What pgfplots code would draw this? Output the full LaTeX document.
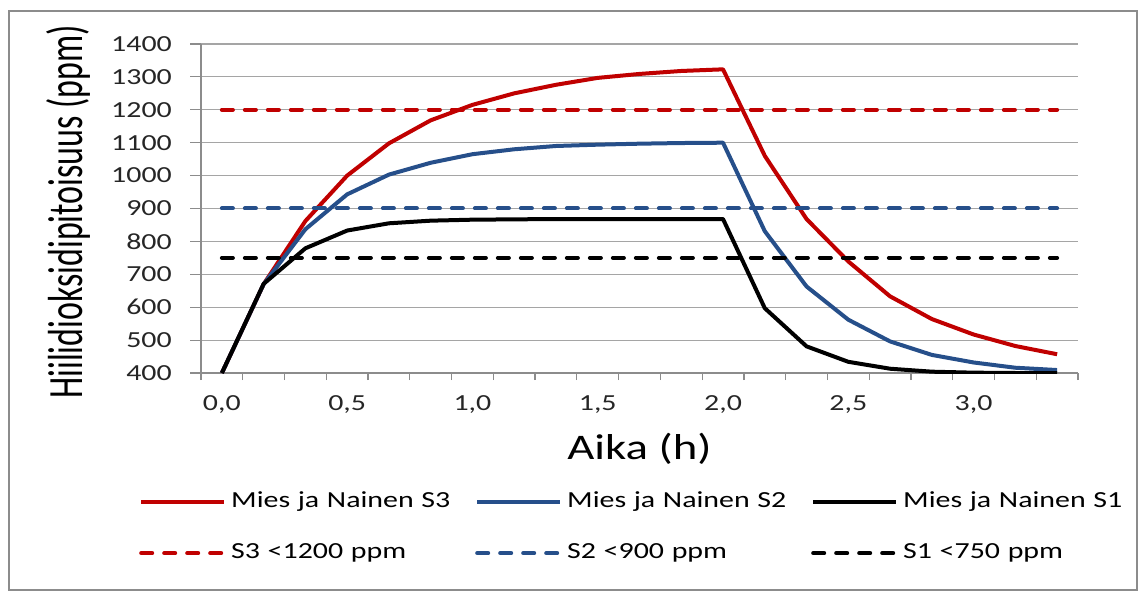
\documentclass[border=0pt]{standalone}
\usepackage{fontspec}
\setmainfont{Carlito}[FakeStretch=1.3]
\newfontfamily\ylabfont{Carlito}
\usepackage{pgfplots}
\pgfplotsset{compat=1.18}
\definecolor{cRed}{RGB}{192,0,0}
\definecolor{cBlue}{RGB}{38,79,138}
\definecolor{cGrid}{RGB}{165,165,165}
\definecolor{cAxis}{RGB}{140,140,140}
\newcommand\tickfont{\fontsize{23}{27}\selectfont}
\newcommand\xlabfont{\fontsize{36}{40}\selectfont}

\begin{document}
\begin{tikzpicture}[x=1pt,y=1pt]
\useasboundingbox (0,0) rectangle (1141,592);
\draw[cAxis, line width=1.2pt] (9,2) rectangle (1137,581);
\begin{axis}[
  at={(201pt,219pt)}, anchor=south west,
  scale only axis, width=877pt, height=329pt,
  xmin=-0.5, xmax=20.5, ymin=400, ymax=1400,
  axis x line*=bottom, axis y line*=left,
  axis line style={cAxis, line width=1.2pt, -},
  ytick={400,500,...,1400},
  ymajorgrids, major grid style={cGrid, line width=1.2pt},
  xtick={0,3,...,18},
  xticklabels={{0,0},{0,5},{1,0},{1,5},{2,0},{2,5},{3,0}},
  minor xtick={-0.5,0.5,...,20.5},
  tick align=outside,
  major tick length=11pt, minor tick length=7pt,
  major x tick style={draw=none},
  tick style={cAxis, line width=1.2pt},
  /pgf/number format/assume math mode=true,
  /pgf/number format/1000 sep={},
  yticklabel style={font=\tickfont, inner sep=0pt, anchor=east, text=black!85},
  xticklabel style={font=\tickfont, inner sep=0pt, anchor=north, text=black!85},
  yticklabel shift=18pt,
  xticklabel shift=11pt,
  xlabel={Aika (h)},
  xlabel style={font=\xlabfont, at={(axis description cs:0.5,-0.2644)}, anchor=base, inner sep=0pt},
  ylabel={\ylabfont\fontsize{34}{37}\selectfont\scalebox{1}[1.45]{Hiilidioksidipitoisuus (ppm)}},
  ylabel style={at={(axis description cs:-0.1517,0.49)}, anchor=center, inner sep=0pt, rotate=0},
  legend columns=3,
  legend cell align=left,
  legend image code/.code={\draw[#1] (0pt,0pt) -- (83pt,0pt);},
  legend style={draw=none, fill=none, inner sep=0pt,
    at={(axis description cs:-0.0707,-0.3587)}, anchor=north west,
    font=\tickfont,
    /tikz/every odd column/.append style={column sep=5pt},
    /tikz/every even column/.append style={column sep=20pt},
    row sep=29pt,
    nodes={inner sep=0pt, text height=16pt, text depth=6pt, text width=224pt, align=left}},
]
\addplot[cRed, line width=4pt, line join=round] coordinates {
(0,400) (1,670) (2,862) (3,1000) (4,1098) (5,1168) (6,1215) (7,1250) (8,1276) (9,1297) (10,1309)
(11,1318) (12,1323) (13,1060) (14,868) (15,739) (16,633) (17,564) (18,517) (19,482) (20,457)};
\addplot[cBlue, line width=4pt, line join=round] coordinates {
(0,400) (1,670) (2,837) (3,943) (4,1003) (5,1039) (6,1065) (7,1080) (8,1090) (9,1094) (10,1097)
(11,1099) (12,1100) (13,831) (14,663) (15,562) (16,496) (17,455) (18,432) (19,416) (20,409)};
\addplot[black, line width=4pt, line join=round] coordinates {
(0,400) (1,671) (2,779) (3,833) (4,855) (5,863) (6,866) (7,867) (8,868) (9,868) (10,868)
(11,868) (12,868) (13,597) (14,481) (15,434) (16,413) (17,404) (18,401) (19,400) (20,400)};
\addplot[cRed, line width=4pt, line cap=round, dash pattern=on 11pt off 12pt] coordinates {
(0,1200) (1,1200) (2,1200) (3,1200) (4,1200) (5,1200) (6,1200) (7,1200) (8,1200) (9,1200) (10,1200)
(11,1200) (12,1200) (13,1200) (14,1200) (15,1200) (16,1200) (17,1200) (18,1200) (19,1200) (20,1200)};
\addplot[cBlue, line width=4pt, line cap=round, dash pattern=on 11pt off 12pt] coordinates {
(0,900) (1,900) (2,900) (3,900) (4,900) (5,900) (6,900) (7,900) (8,900) (9,900) (10,900)
(11,900) (12,900) (13,900) (14,900) (15,900) (16,900) (17,900) (18,900) (19,900) (20,900)};
\addplot[black, line width=4pt, line cap=round, dash pattern=on 11pt off 12pt] coordinates {
(0,750) (1,750) (2,750) (3,750) (4,750) (5,750) (6,750) (7,750) (8,750) (9,750) (10,750)
(11,750) (12,750) (13,750) (14,750) (15,750) (16,750) (17,750) (18,750) (19,750) (20,750)};
\legend{Mies ja Nainen S3, Mies ja Nainen S2, Mies ja Nainen S1, S3 <1200 ppm, S2 <900 ppm, S1 <750 ppm}
\end{axis}
\end{tikzpicture}
\end{document}
